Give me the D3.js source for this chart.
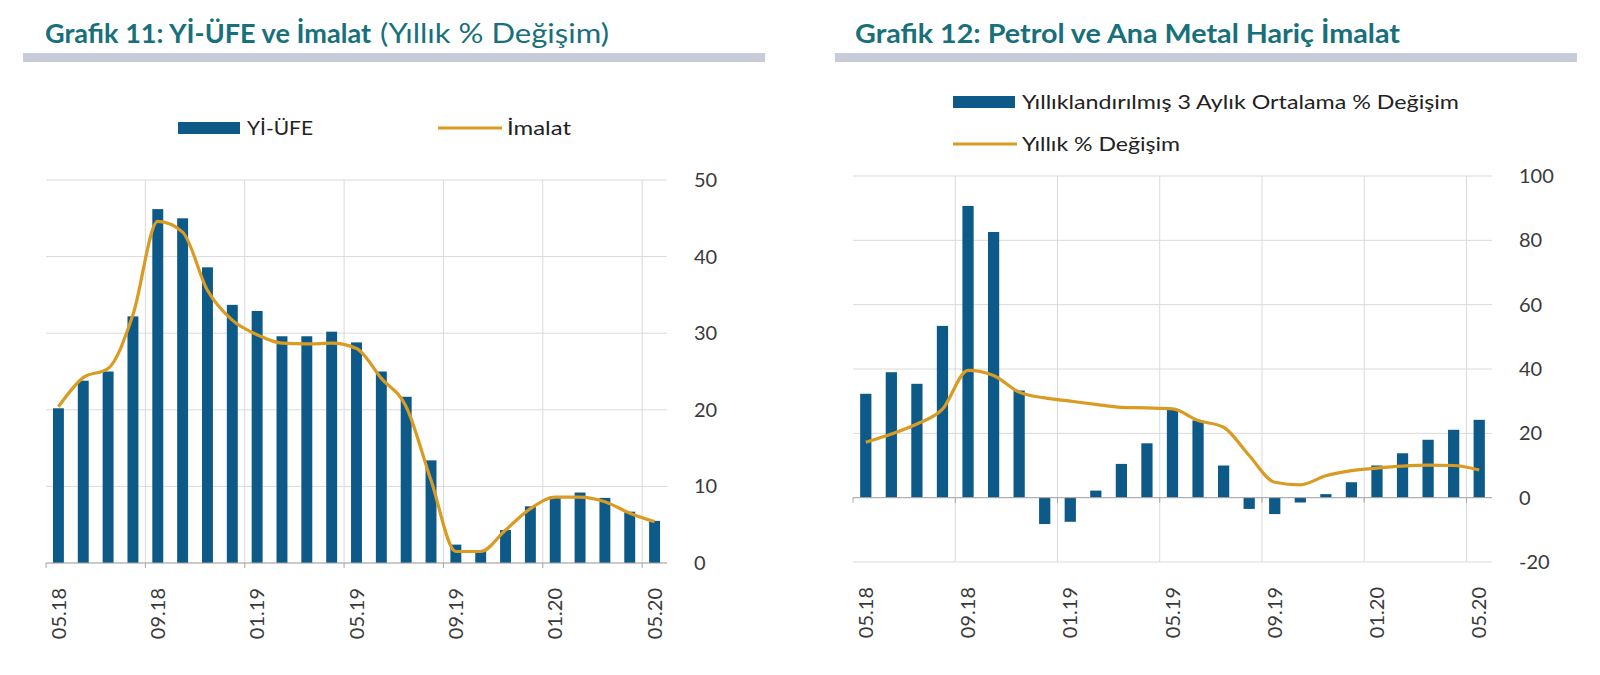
<!DOCTYPE html>
<html><head><meta charset="utf-8">
<script src="https://cdn.jsdelivr.net/npm/d3@7/dist/d3.min.js"></script>
<style>
body{margin:0;background:#fff}
text{font-family:Lato,"Open Sans","Noto Sans",sans-serif}
</style>
</head><body>
<svg id="c" width="1600" height="675"></svg>
<script>
// ---------- DATA ----------
const months = ["05.18","06.18","07.18","08.18","09.18","10.18","11.18","12.18",
  "01.19","02.19","03.19","04.19","05.19","06.19","07.19","08.19","09.19","10.19","11.19","12.19",
  "01.20","02.20","03.20","04.20","05.20"];
const tickLabels = ["05.18","09.18","01.19","05.19","09.19","01.20","05.20"];

// Grafik 11
const yiUfe  = [20.2,23.8,25.0,32.2,46.2,45.0,38.6,33.7,32.9,29.6,29.6,30.2,28.8,25.0,21.7,13.4,2.4,1.7,4.3,7.4,8.7,9.2,8.5,6.7,5.5];
const imalat = [20.4,24.2,25.4,32.4,44.6,43.2,35.6,31.7,29.8,28.7,28.6,28.7,28.0,24.1,20.4,10.8,1.5,1.5,4.3,7.1,8.6,8.6,8.0,6.5,5.4];
const yTicks11 = [0,10,20,30,40,50];

// Grafik 12
const avg3m  = [32.3,39.0,35.4,53.4,90.7,82.6,33.3,-8.2,-7.5,2.2,10.5,16.9,27.6,24.0,10.0,-3.5,-5.1,-1.5,1.1,4.8,10.0,13.8,18.0,21.1,24.2];
const yoy12  = [17.2,19.8,22.9,27.5,39.6,38.0,32.8,31.0,30.0,29.0,28.1,27.9,27.6,24.0,21.9,13.1,4.8,4.0,6.8,8.4,9.2,9.8,10.1,10.0,8.6];
const yTicks12 = [-20,0,20,40,60,80,100];

// ---------- STYLE ----------
const BAR = "#0d5a88", LINE = "#d99b22", GRID = "#dadada", TITLE = "#17707a";
const svg = d3.select("#c");

function header(o){
  svg.append("rect").attr("x",o.barX0).attr("y",53).attr("width",o.barX1-o.barX0).attr("height",9).attr("fill","#c8ccd8");
  svg.append("text").attr("x",o.tx).attr("y",43).attr("font-size",27).attr("font-weight",700)
     .attr("fill",TITLE).attr("textLength",o.boldLen).attr("lengthAdjust","spacingAndGlyphs").text(o.bold);
  if(o.normal){
    svg.append("text").attr("x",o.nx).attr("y",43).attr("font-size",27).attr("font-weight",400)
       .attr("fill",TITLE).attr("textLength",o.normalLen).attr("lengthAdjust","spacingAndGlyphs").text(o.normal);
  }
}

function legendItem(type,x,y,label,len){
  if(type==="bar") svg.append("rect").attr("x",x).attr("y",y-6).attr("width",62).attr("height",12).attr("fill",BAR);
  else svg.append("line").attr("x1",x).attr("x2",x+64).attr("y1",y).attr("y2",y).attr("stroke",LINE).attr("stroke-width",3);
  svg.append("text").attr("x",x+69).attr("y",y).attr("dy","0.35em").attr("font-size",19).attr("fill","#222")
     .attr("textLength",len).attr("lengthAdjust","spacingAndGlyphs").text(label);
}

function panel(o){
  const x = d3.scaleBand().domain(months).range([o.x0,o.x1]).paddingInner(0.56).paddingOuter(0.28);
  const step = (o.x1-o.x0)/months.length;
  const y = d3.scaleLinear().domain(o.dom).range([o.yb,o.yt]);
  const g = svg.append("g");
  // horizontal gridlines
  g.selectAll(".hg").data(o.ticks).join("line")
    .attr("x1",o.x0).attr("x2",o.x1).attr("y1",d=>y(d)).attr("y2",d=>y(d))
    .attr("stroke",GRID).attr("stroke-width",1);
  // vertical gridlines at category boundaries every 4 months
  const bIdx = [4,8,12,16,20,24];
  g.selectAll(".vg").data(bIdx).join("line")
    .attr("x1",i=>o.x0+i*step).attr("x2",i=>o.x0+i*step).attr("y1",o.yt).attr("y2",o.yb)
    .attr("stroke",GRID).attr("stroke-width",1);
  // bars
  g.selectAll(".bar").data(o.bars).join("rect")
    .attr("x",(d,i)=>x(months[i])).attr("width",x.bandwidth())
    .attr("y",d=>y(Math.max(0,d))).attr("height",d=>Math.abs(y(d)-y(0)))
    .attr("fill",BAR);
  // zero axis line with ticks
  const y0 = y(0);
  g.append("line").attr("x1",o.x0).attr("x2",o.x1).attr("y1",y0).attr("y2",y0).attr("stroke","#a6a6a6").attr("stroke-width",1);
  g.selectAll(".tk").data([0].concat(bIdx)).join("line")
    .attr("x1",i=>o.x0+i*step).attr("x2",i=>o.x0+i*step).attr("y1",y0).attr("y2",y0+5)
    .attr("stroke","#a6a6a6");
  // line
  const ln = d3.line().x((d,i)=>x(months[i])+x.bandwidth()/2).y(d=>y(d)).curve(d3.curveMonotoneX);
  g.append("path").datum(o.line).attr("d",ln).attr("fill","none").attr("stroke",LINE).attr("stroke-width",3.2)
    .attr("stroke-linejoin","round");
  // y axis (right)
  const ya = g.append("g").attr("transform",`translate(${o.x1},0)`)
    .call(d3.axisRight(y).tickValues(o.ticks).tickFormat(d=>String(d)).tickSize(0).tickPadding(27));
  ya.select(".domain").remove();
  ya.selectAll("text").attr("font-size",20).attr("fill","#3a3a3a").style("font-family","Lato, sans-serif");
  // x axis labels
  const xa = g.append("g").attr("transform",`translate(0,${o.yb})`)
    .call(d3.axisBottom(x).tickValues(tickLabels).tickSize(0));
  xa.select(".domain").remove();
  xa.selectAll("text").attr("transform","rotate(-90)").attr("text-anchor","end")
    .attr("x",-(o.labelTop-o.yb)).attr("y",0).attr("dy","0.36em")
    .attr("font-size",20).attr("fill","#3a3a3a").style("font-family","Lato, sans-serif");
}

// ---------- Grafik 11 ----------
header({barX0:23,barX1:765,tx:45,bold:"Grafik 11: Yİ-ÜFE ve İmalat",boldLen:326,nx:380,normal:"(Yıllık % Değişim)",normalLen:229});
legendItem("bar",178,128,"Yİ-ÜFE",66);
legendItem("line",438,128,"İmalat",64);
panel({x0:46,x1:667,yt:180,yb:563,dom:[0,50],ticks:yTicks11,bars:yiUfe,line:imalat,labelTop:588});

// ---------- Grafik 12 ----------
header({barX0:835,barX1:1577,tx:855,bold:"Grafik 12: Petrol ve Ana Metal Hariç İmalat",boldLen:545});
legendItem("bar",953,102,"Yıllıklandırılmış 3 Aylık Ortalama % Değişim",437);
legendItem("line",953,144,"Yıllık % Değişim",158);
panel({x0:853,x1:1492,yt:176,yb:562,dom:[-20,100],ticks:yTicks12,bars:avg3m,line:yoy12,labelTop:587});
</script>
</body></html>
